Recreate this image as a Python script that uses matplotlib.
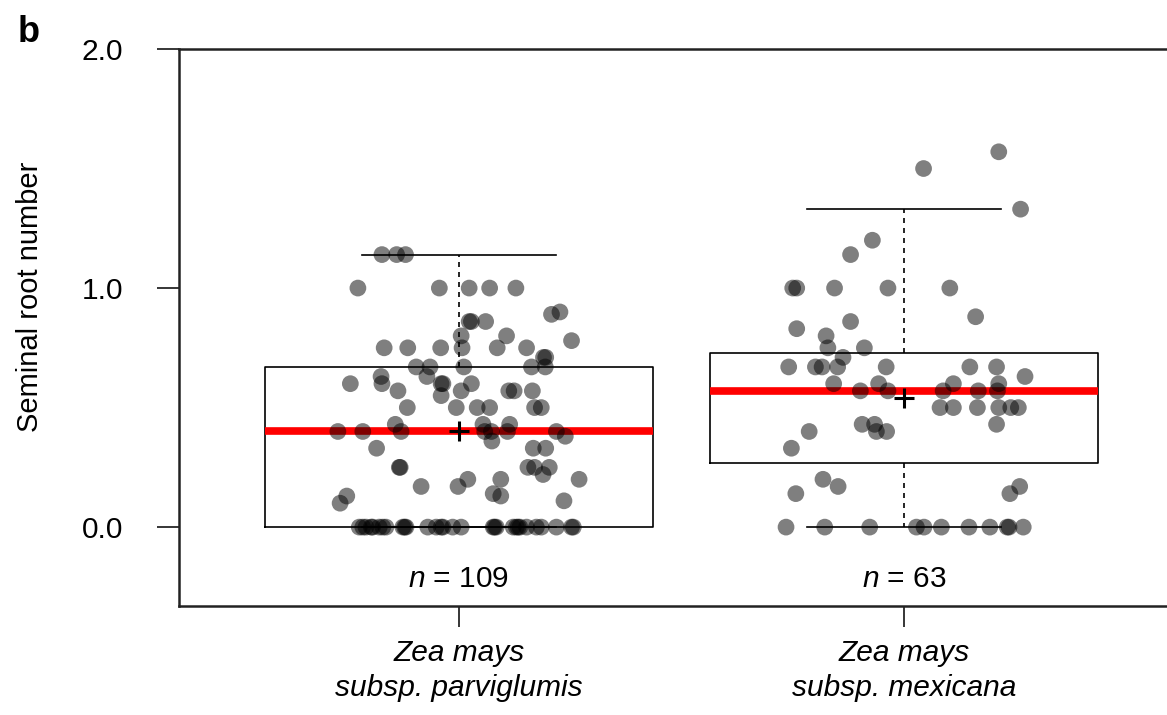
import matplotlib
matplotlib.use("Agg")
import matplotlib.pyplot as plt
import numpy as np

plt.rcParams["font.family"] = ["Liberation Sans", "DejaVu Sans"]
plt.rcParams["mathtext.fontset"] = "custom"
plt.rcParams["mathtext.it"] = "Liberation Sans:italic"
plt.rcParams["mathtext.rm"] = "Liberation Sans"

groups = ["Zea mays\nsubsp. parviglumis", "Zea mays\nsubsp. mexicana"]
n_labels = ["109", "63"]

# box summaries per group
box_q1 = [0.0, 0.27]
box_med = [0.40, 0.57]
box_q3 = [0.67, 0.73]
whisker_lo = [0.0, 0.0]
whisker_hi = [1.14, 1.33]
group_means = [0.40, 0.54]

# individual plants, parviglumis (value, horizontal jitter)
parv_y = ([1.14] * 3 + [1.0] * 5 + [0.89, 0.90] + [0.86] * 3 + [0.8] * 2
          + [0.78] + [0.75] * 6 + [0.71] * 2 + [0.67] * 5 + [0.63] * 2
          + [0.6] * 5 + [0.57] * 5 + [0.55] + [0.5] * 6 + [0.43] * 3
          + [0.4] * 7 + [0.38] + [0.36] + [0.33] * 3 + [0.25] * 5 + [0.22]
          + [0.2] * 3 + [0.17] * 2 + [0.14] + [0.13] * 2 + [0.1] + [0.11]
          + [0.0] * 30)
parv_jitter = [-0.173, -0.140, -0.120,
               -0.227, -0.044, 0.023, 0.069, 0.128,
               0.208, 0.227,
               0.023, 0.028, 0.060,
               0.005, 0.107,
               0.253,
               -0.168, -0.115, -0.041, 0.007, 0.086, 0.152,
               0.190, 0.195,
               -0.096, -0.065, 0.011, 0.163, 0.194,
               -0.175, -0.072,
               -0.244, -0.173, -0.040, -0.036, 0.028,
               -0.137, 0.005, 0.112, 0.124, 0.165,
               -0.040,
               -0.116, -0.006, 0.041, 0.069, 0.170, 0.185,
               -0.143, 0.054, 0.114,
               -0.272, -0.216, -0.130, 0.058, 0.073, 0.109, 0.219,
               0.239,
               0.074,
               -0.185, 0.167, 0.195,
               -0.134, -0.132, 0.155, 0.170, 0.203,
               0.189,
               0.020, 0.094, 0.270,
               -0.085, -0.002,
               0.077,
               0.094, -0.252,
               -0.267,
               0.236,
               -0.224, -0.216, -0.209, -0.197, -0.194, -0.179, -0.171, -0.164,
               -0.126, -0.122, -0.119, -0.070, -0.051, -0.040, -0.036, -0.014,
               0.005, 0.077, 0.080, 0.084, 0.122, 0.129, 0.133, 0.137,
               0.152, 0.174, 0.185, 0.219, 0.253, 0.257]

# individual plants, mexicana
mex_y = ([1.57, 1.5, 1.33, 1.2, 1.14] + [1.0] * 5 + [0.88, 0.86, 0.83, 0.8]
         + [0.75] * 2 + [0.71] + [0.67] * 7 + [0.63] + [0.6] * 4 + [0.57] * 5
         + [0.5] * 6 + [0.43] * 3 + [0.4] * 3 + [0.33] + [0.2] + [0.17] * 2
         + [0.14] * 2 + [0.0] * 11)
mex_jitter = [0.213, 0.044, 0.262, -0.071, -0.120,
              -0.250, -0.241, -0.156, -0.036, 0.103,
              0.161, -0.120, -0.241, -0.175,
              -0.171, -0.089,
              -0.137,
              -0.259, -0.199, -0.184, -0.149, -0.040, 0.148, 0.208,
              0.272,
              -0.158, -0.057, 0.111, 0.213,
              -0.098, -0.036, 0.088, 0.167, 0.210,
              0.081, 0.111, 0.165, 0.213, 0.240, 0.257,
              -0.094, -0.066, 0.208,
              -0.213, -0.062, -0.039,
              -0.253,
              -0.182,
              -0.148, 0.260,
              -0.243, 0.238,
              -0.265, -0.178, -0.077, 0.028, 0.045, 0.084, 0.146, 0.193,
              0.232, 0.236, 0.268]

fig = plt.figure(figsize=(11.67, 7.15), dpi=100)
ax = fig.add_axes([179 / 1167, 109 / 715, 1 - 179 / 1167, 557 / 715])

stats = []
for i in range(len(groups)):
    stats.append({"q1": box_q1[i], "med": box_med[i], "q3": box_q3[i],
                  "whislo": whisker_lo[i], "whishi": whisker_hi[i],
                  "mean": group_means[i], "fliers": []})

ax.bxp(stats, positions=[1, 2], widths=0.872, capwidths=0.436,
       showmeans=True, showfliers=False,
       boxprops=dict(color="black", lw=1.2),
       whiskerprops=dict(color="black", lw=1.2, linestyle=(0, (3, 3))),
       capprops=dict(color="black", lw=1.2),
       medianprops=dict(color="#ff0000", lw=5.5, solid_capstyle="butt"),
       meanprops=dict(marker="+", markersize=15, markeredgewidth=2.2,
                      markeredgecolor="black", zorder=5),
       manage_ticks=False)

ax.scatter(1 + np.array(parv_jitter), parv_y, s=145, color="black",
           alpha=0.5, edgecolors="none", zorder=3)
ax.scatter(2 + np.array(mex_jitter), mex_y, s=145, color="black",
           alpha=0.5, edgecolors="none", zorder=3)

for i, n in enumerate(n_labels):
    ax.text(i + 1, -0.25, r"$n$ = " + n, ha="center", va="baseline",
            fontsize=21.5)

ax.set_xlim(0.371, 2.591)
ax.set_ylim(-0.33, 2.0)
ax.set_yticks([0, 1, 2])
ax.set_yticklabels(["0.0", "1.0", "2.0"], fontsize=21.5)
ax.set_xticks([1, 2])
ax.set_xticklabels(groups, fontsize=21.5, fontstyle="italic", linespacing=1.3)
ax.tick_params(axis="y", length=16, width=1.1, pad=24)
ax.tick_params(axis="x", length=15, width=1.1, pad=9)

ax.spines["right"].set_visible(False)
for side in ["left", "top", "bottom"]:
    ax.spines[side].set_linewidth(1.8)
    ax.spines[side].set_color("#222222")

fig.text(30 / 1167, 0.585, "Seminal root number", rotation=90,
         ha="center", va="center", fontsize=21)
fig.text(18 / 1167, 1 - 42 / 715, "b", fontsize=26, fontweight="bold",
         ha="left", va="baseline")

fig.savefig("out.png", dpi=100)
